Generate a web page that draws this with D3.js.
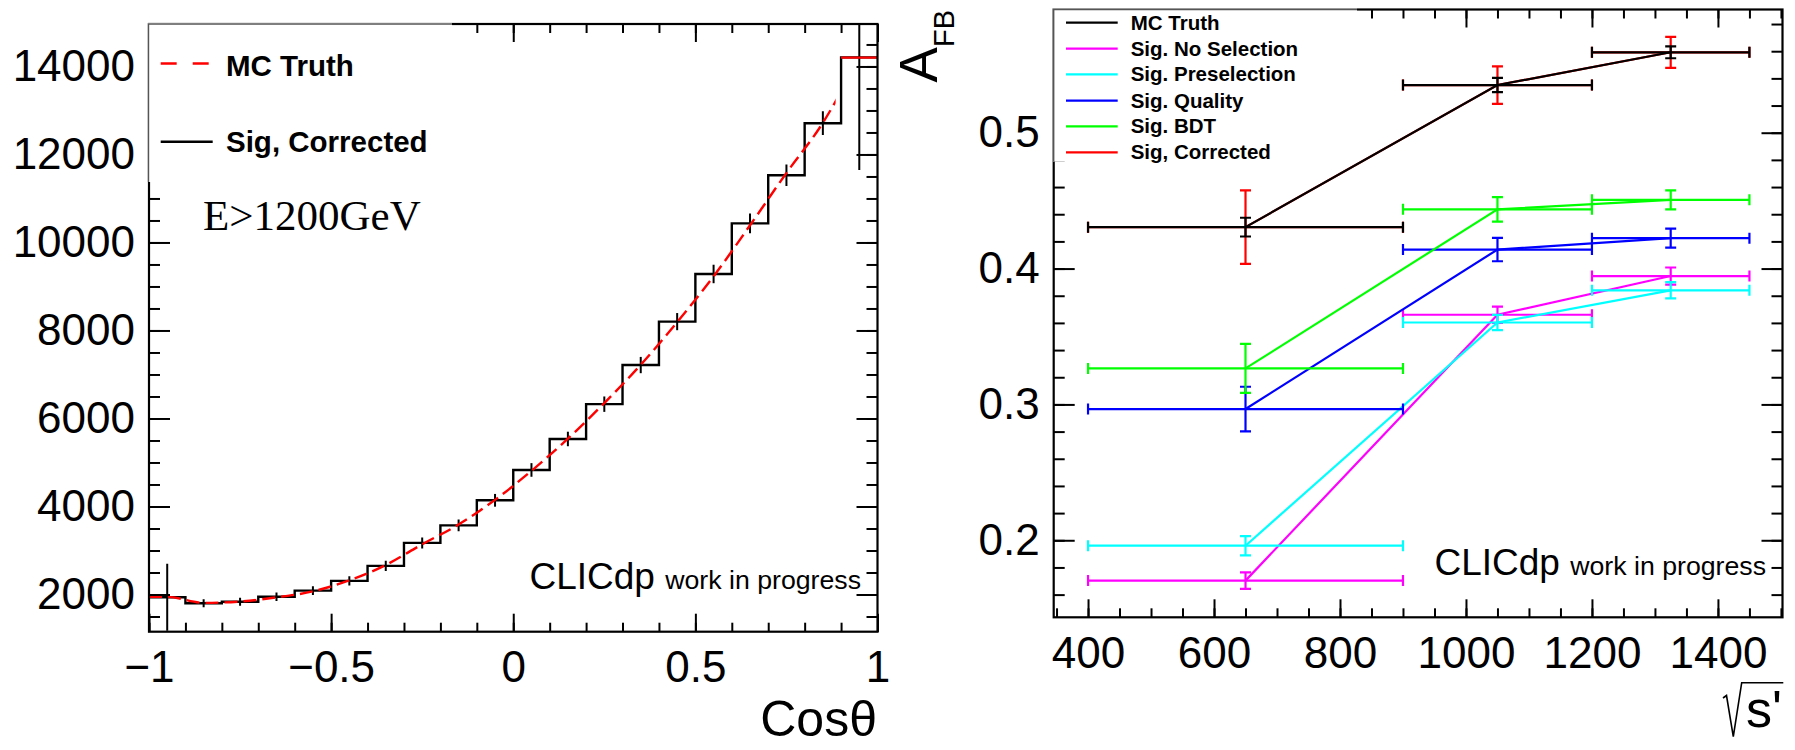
<!DOCTYPE html>
<html><head><meta charset="utf-8">
<script src="https://cdn.jsdelivr.net/npm/d3@7"></script>
<style>
body{margin:0;background:#fff}
svg{display:block;background:#fff}
</style>
</head><body>
<svg id="c" width="1795" height="750"></svg>
<script>
// ---------------- Left panel data: cos(theta) histogram, E>1200 GeV ----------------
const cosEdges = [-1,-0.9,-0.8,-0.7,-0.6,-0.5,-0.4,-0.3,-0.2,-0.1,0,0.1,0.2,0.3,0.4,0.5,0.6,0.7,0.8,0.9,1];
const sigCorrected    = [1936,1802,1835,1948,2088,2310,2650,3172,3570,4140,4830,5534,6325,7214,8201,9284,10434,11528,12710,14206];
const sigCorrectedErr = [760,90,90,95,100,105,115,125,135,145,155,165,175,185,195,210,225,245,270,2560];
const mcTruth         = [1945,1810,1840,1935,2070,2320,2670,3140,3590,4150,4810,5540,6350,7220,8190,9230,10390,11580,12720,14200];
const mcCurveEnd = 0.885;
const leftXTicks = [-1,-0.5,0,0.5,1];
const leftYTicks = [2000,4000,6000,8000,10000,12000,14000];
const leftLegend = ["MC Truth","Sig, Corrected"];

// ---------------- Right panel data: A_FB vs sqrt(s') ----------------
const sqrtSCenter = [650,1050,1325];
const sqrtSLow    = [400,900,1200];
const sqrtSHigh   = [900,1200,1450];
const afbMCTruth     = [0.4305,0.5351,0.5592];
const afbMCTruthErr  = [0.0069,0.0052,0.0044];
const afbNoSel       = [0.1703,0.3660,0.3945];
const afbNoSelErr    = [0.0061,0.0060,0.0063];
const afbPresel      = [0.1960,0.3603,0.3840];
const afbPreselErr   = [0.0071,0.0056,0.0060];
const afbQuality     = [0.2966,0.4140,0.4224];
const afbQualityErr  = [0.0164,0.0086,0.0070];
const afbBDT         = [0.3265,0.4436,0.4506];
const afbBDTErr      = [0.0180,0.0090,0.0070];
const afbCorrected   = [0.4305,0.5351,0.5592];
const afbCorrectedErr= [0.0270,0.0138,0.0114];
const rightLegend = ["MC Truth","Sig. No Selection","Sig. Preselection","Sig. Quality","Sig. BDT","Sig, Corrected"];
const rightColors = ["#000000","#ff00ff","#00ffff","#0000ff","#00ff00","#ff0000"];
const rightXTicks = [400,600,800,1000,1200,1400];
const rightYTicks = [0.2,0.3,0.4,0.5];

const FONT = "'Liberation Sans', Arial, Helvetica, sans-serif";
const svg = d3.select("#c");

// ---------------- scales ----------------
const xL = d3.scaleLinear().domain([-1,1]).range([149,877.5]);
const yL = d3.scaleLinear().domain([1154,14965]).range([631.7,24]);
const xR = d3.scaleLinear().domain([345.5,1502.5]).range([1053.7,1782.5]);
const yR = d3.scaleLinear().domain([0.1433,0.5907]).range([617.3,9.5]);

const minusFmt = d => (d < 0 ? "\u2212" : "") + Math.abs(d);

function styleAxis(sel, fs) {
  sel.attr("font-size", fs).attr("font-family", FONT);
  sel.select(".domain").remove();
  sel.selectAll("line").attr("stroke", "#000").attr("stroke-width", 2);
  sel.selectAll("text").attr("fill", "#000");
}

function drawAxes(x, y, o) {
  const [xa, xb] = x.range(), [yb, yt] = y.range();
  const g = svg.append("g");
  g.append("g").attr("transform", `translate(0,${yb})`)
    .call(d3.axisBottom(x).tickValues(o.xMinor).tickSizeInner(-o.xMin).tickSizeOuter(0).tickFormat(""))
    .call(s => styleAxis(s, 44));
  g.append("g").attr("transform", `translate(0,${yb})`)
    .call(d3.axisBottom(x).tickValues(o.xMajor).tickSizeInner(-o.xMaj).tickSizeOuter(0).tickPadding(19.5).tickFormat(o.xFmt))
    .call(s => styleAxis(s, 44));
  g.append("g").attr("transform", `translate(0,${yt})`)
    .call(d3.axisTop(x).tickValues(o.xMinor).tickSizeInner(-o.xMin).tickSizeOuter(0).tickFormat(""))
    .call(s => styleAxis(s, 44));
  g.append("g").attr("transform", `translate(0,${yt})`)
    .call(d3.axisTop(x).tickValues(o.xMajor).tickSizeInner(-o.xMaj).tickSizeOuter(0).tickFormat(""))
    .call(s => styleAxis(s, 44));
  g.append("g").attr("transform", `translate(${xa},0)`)
    .call(d3.axisLeft(y).tickValues(o.yMinor).tickSizeInner(-o.yMin).tickSizeOuter(0).tickFormat(""))
    .call(s => styleAxis(s, 44));
  g.append("g").attr("transform", `translate(${xa},0)`)
    .call(d3.axisLeft(y).tickValues(o.yMajor).tickSizeInner(-o.yMaj).tickSizeOuter(0).tickPadding(14).tickFormat(o.yFmt))
    .call(s => styleAxis(s, 44));
  g.append("g").attr("transform", `translate(${xb},0)`)
    .call(d3.axisRight(y).tickValues(o.yMinor).tickSizeInner(-o.yMin).tickSizeOuter(0).tickFormat(""))
    .call(s => styleAxis(s, 44));
  g.append("g").attr("transform", `translate(${xb},0)`)
    .call(d3.axisRight(y).tickValues(o.yMajor).tickSizeInner(-o.yMaj).tickSizeOuter(0).tickFormat(""))
    .call(s => styleAxis(s, 44));
  g.append("rect").attr("x", xa).attr("y", yt).attr("width", xb - xa).attr("height", yb - yt)
    .attr("fill", "none").attr("stroke", "#000").attr("stroke-width", 2.2);
}

function clipFor(id, x, y) {
  const [xa, xb] = x.range(), [yb, yt] = y.range();
  svg.append("clipPath").attr("id", id).append("rect")
    .attr("x", xa).attr("y", yt).attr("width", xb - xa).attr("height", yb - yt);
}

// ================= LEFT PANEL =================
clipFor("clipL", xL, yL);
const gL = svg.append("g").attr("clip-path", "url(#clipL)");

const stepPts = sigCorrected.map((v, i) => [cosEdges[i], v]);
stepPts.push([cosEdges[cosEdges.length - 1], sigCorrected[sigCorrected.length - 1]]);
gL.append("path")
  .attr("d", d3.line().x(d => xL(d[0])).y(d => yL(d[1])).curve(d3.curveStepAfter)(stepPts))
  .attr("fill", "none").attr("stroke", "#000").attr("stroke-width", 2.4);
gL.selectAll("line.err").data(sigCorrected).join("line").attr("class", "err")
  .attr("x1", (d, i) => xL((cosEdges[i] + cosEdges[i + 1]) / 2))
  .attr("x2", (d, i) => xL((cosEdges[i] + cosEdges[i + 1]) / 2))
  .attr("y1", (d, i) => yL(d - sigCorrectedErr[i]))
  .attr("y2", (d, i) => yL(d + sigCorrectedErr[i]))
  .attr("stroke", "#000").attr("stroke-width", 2);

svg.append("clipPath").attr("id", "clipMC").append("rect")
  .attr("x", xL(-1)).attr("y", yL.range()[1]).attr("width", xL(mcCurveEnd) - xL(-1))
  .attr("height", yL.range()[0] - yL.range()[1]);
const mcPts = [[cosEdges[0], mcTruth[0]]].concat(mcTruth.map((v, i) => [(cosEdges[i] + cosEdges[i + 1]) / 2, v]));
svg.append("g").attr("clip-path", "url(#clipMC)").append("path")
  .attr("d", d3.line().x(d => xL(d[0])).y(d => yL(d[1])).curve(d3.curveMonotoneX)(mcPts))
  .attr("fill", "none").attr("stroke", "#ff0000").attr("stroke-width", 2.4).attr("stroke-dasharray", "13,6");
const nb = mcTruth.length - 1;
gL.append("line")
  .attr("x1", xL(cosEdges[nb])).attr("x2", xL(cosEdges[nb + 1]))
  .attr("y1", yL(mcTruth[nb])).attr("y2", yL(mcTruth[nb]))
  .attr("stroke", "#ff0000").attr("stroke-width", 2.4);

drawAxes(xL, yL, {
  xMajor: leftXTicks, xMinor: d3.range(-10, 11).map(k => k / 10),
  yMajor: leftYTicks, yMinor: d3.range(3, 30).map(k => k * 500),
  xMaj: 18, xMin: 9, yMaj: 21, yMin: 11,
  xFmt: minusFmt, yFmt: d => String(d)
});

svg.append("rect").attr("x", 148).attr("y", 23).attr("width", 304).attr("height", 159).attr("fill", "#fff");
svg.append("path").attr("d", "M148.5,182V24H452").attr("fill", "none").attr("stroke", "#555").attr("stroke-width", 1.4);
svg.append("line").attr("x1", 160.7).attr("x2", 212.7).attr("y1", 63.5).attr("y2", 63.5)
  .attr("stroke", "#ff0000").attr("stroke-width", 2.4).attr("stroke-dasharray", "16,16");
svg.append("line").attr("x1", 160.7).attr("x2", 212.7).attr("y1", 141.7).attr("y2", 141.7)
  .attr("stroke", "#000").attr("stroke-width", 2.4);
svg.selectAll("text.legL").data(leftLegend).join("text").attr("class", "legL")
  .attr("x", 226).attr("y", (d, i) => i === 0 ? 76 : 152)
  .attr("font-family", FONT).attr("font-weight", "bold").attr("font-size", 29.5).attr("fill", "#000")
  .text(d => d);

svg.append("text").attr("x", 203).attr("y", 230)
  .attr("font-family", "'Liberation Serif', 'Times New Roman', serif").attr("font-size", 43)
  .text("E>1200GeV");

const clicL = svg.append("text").attr("x", 861).attr("y", 589).attr("text-anchor", "end")
  .attr("font-family", FONT).attr("fill", "#000");
clicL.append("tspan").attr("font-size", 37).text("CLICdp ");
clicL.append("tspan").attr("font-size", 26.7).text("work in progress");

svg.append("text").attr("x", 877).attr("y", 736).attr("text-anchor", "end")
  .attr("font-family", FONT).attr("font-size", 50).text("Cos\u03b8");

// ================= RIGHT PANEL =================
clipFor("clipR", xR, yR);
const gR = svg.append("g").attr("clip-path", "url(#clipR)");

const seriesVals = [afbMCTruth, afbNoSel, afbPresel, afbQuality, afbBDT, afbCorrected];
const seriesErrs = [afbMCTruthErr, afbNoSelErr, afbPreselErr, afbQualityErr, afbBDTErr, afbCorrectedErr];
const drawOrder = [5, 1, 2, 3, 4, 0];
const cap = 5.5;

drawOrder.forEach(si => {
  const vals = seriesVals[si], errs = seriesErrs[si], col = rightColors[si];
  const g = gR.append("g").attr("stroke", col).attr("stroke-width", 2.2).attr("fill", "none");
  g.append("path").attr("d", d3.line().x((d, i) => xR(sqrtSCenter[i])).y(d => yR(d))(vals));
  vals.forEach((v, i) => {
    const cx = xR(sqrtSCenter[i]), cy = yR(v);
    const xl = xR(sqrtSLow[i]), xh = xR(sqrtSHigh[i]);
    const yl = yR(v - errs[i]), yh = yR(v + errs[i]);
    g.append("path").attr("d",
      `M${xl},${cy}H${xh}M${xl},${cy - cap}V${cy + cap}M${xh},${cy - cap}V${cy + cap}` +
      `M${cx},${yl}V${yh}M${cx - cap},${yl}H${cx + cap}M${cx - cap},${yh}H${cx + cap}`);
  });
});

drawAxes(xR, yR, {
  xMajor: rightXTicks, xMinor: d3.range(7, 31).map(k => k * 50),
  yMajor: rightYTicks, yMinor: d3.range(8, 30).map(k => k / 50),
  xMaj: 18, xMin: 9, yMaj: 21, yMin: 11,
  xFmt: d => String(d), yFmt: d => String(d)
});

svg.append("rect").attr("x", 1053).attr("y", 8.5).attr("width", 304).attr("height", 153).attr("fill", "#fff");
svg.append("path").attr("d", "M1053.7,161.5V9.5H1357").attr("fill", "none").attr("stroke", "#555").attr("stroke-width", 1.4);
const legY = [22.7, 48.7, 74.3, 100.7, 126.3, 152.3];
rightLegend.forEach((lab, i) => {
  svg.append("line").attr("x1", 1066).attr("x2", 1117.7).attr("y1", legY[i]).attr("y2", legY[i])
    .attr("stroke", rightColors[i]).attr("stroke-width", 2.2);
  svg.append("text").attr("x", 1130.7).attr("y", legY[i] + 7)
    .attr("font-family", FONT).attr("font-weight", "bold").attr("font-size", 20.5).attr("fill", "#000")
    .text(lab);
});

const clicR = svg.append("text").attr("x", 1766).attr("y", 575).attr("text-anchor", "end")
  .attr("font-family", FONT).attr("fill", "#000");
clicR.append("tspan").attr("font-size", 37).text("CLICdp ");
clicR.append("tspan").attr("font-size", 26.7).text("work in progress");

const afbT = svg.append("text").attr("transform", "translate(937,10) rotate(-90)")
  .attr("text-anchor", "end").attr("font-family", FONT).attr("fill", "#000");
afbT.append("tspan").attr("font-size", 53).text("A");
afbT.append("tspan").attr("font-size", 29).attr("dy", 17).text("FB");

svg.append("path").attr("d", "M1723,698L1726.5,695.5L1733.3,736.7L1741.7,682.7H1783.3")
  .attr("fill", "none").attr("stroke", "#000").attr("stroke-width", 1.6);
svg.append("text").attr("x", 1746).attr("y", 727).attr("font-family", FONT).attr("font-size", 52)
  .attr("fill", "#000").text("s'");
</script>
</body></html>
